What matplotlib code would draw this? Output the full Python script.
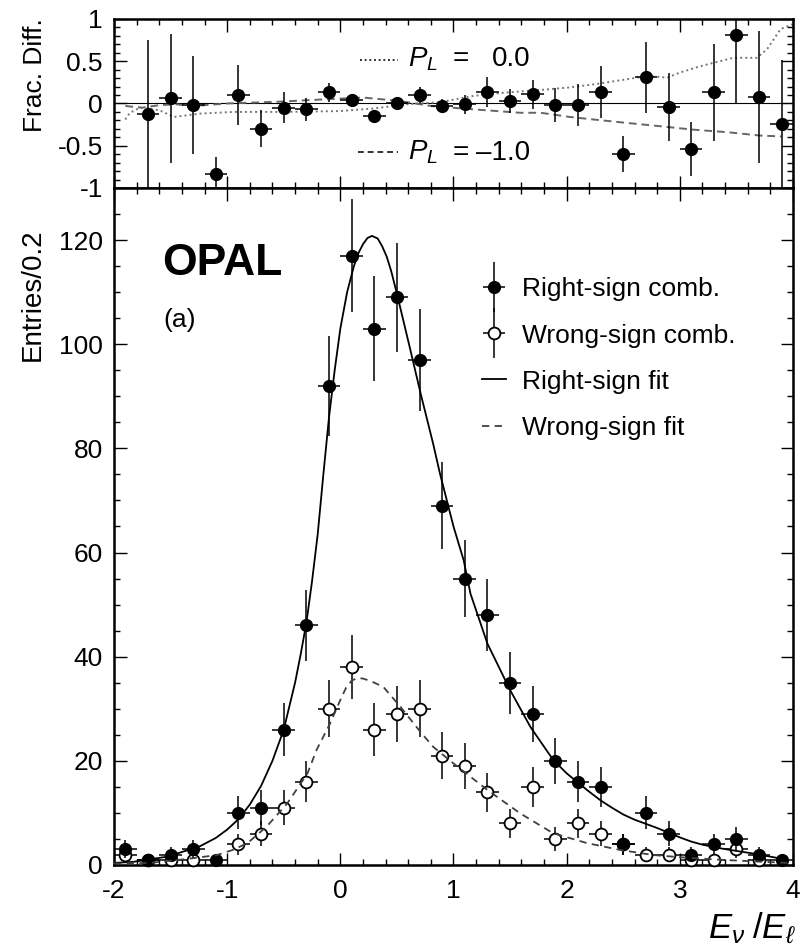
import numpy as np
import matplotlib
matplotlib.use('Agg')
import matplotlib.pyplot as plt
from matplotlib.legend_handler import HandlerErrorbar
from matplotlib.ticker import MultipleLocator, FuncFormatter
from matplotlib.container import ErrorbarContainer

plt.rcParams['font.family'] = ['Liberation Sans', 'DejaVu Sans']
plt.rcParams['mathtext.fontset'] = 'custom'
plt.rcParams['mathtext.it'] = 'Liberation Sans:italic'
plt.rcParams['mathtext.rm'] = 'Liberation Sans'
plt.rcParams['axes.unicode_minus'] = False

# ---------------- data ----------------
bin_centers = [-1.9, -1.7, -1.5, -1.3, -1.1, -0.9, -0.7, -0.5, -0.3, -0.1,
               0.1, 0.3, 0.5, 0.7, 0.9, 1.1, 1.3, 1.5, 1.7, 1.9,
               2.1, 2.3, 2.5, 2.7, 2.9, 3.1, 3.3, 3.5, 3.7, 3.9]
right_sign = [3, 1, 2, 3, 1, 10, 11, 26, 46, 92,
              117, 103, 109, 97, 69, 55, 48, 35, 29, 20,
              16, 15, 4, 10, 6, 2, 4, 5, 2, 1]
wrong_sign = [2, 1, 1, 1, 0, 4, 6, 11, 16, 30,
              38, 26, 29, 30, 21, 19, 14, 8, 15, 5,
              8, 6, 4, 2, 2, 1, 1, 3, 1, 0]
bin_half_width = 0.1

right_fit_x = [-2.0, -1.83, -1.53, -1.24, -1.1, -1.0, -0.9, -0.8, -0.7, -0.6,
               -0.5, -0.4, -0.35, -0.3, -0.25, -0.2, -0.15, -0.1, -0.05, 0.0,
               0.06, 0.12, 0.16, 0.2, 0.24, 0.28, 0.33, 0.37, 0.41, 0.45,
               0.5, 0.62, 0.71, 0.82, 0.88, 1.0, 1.09, 1.15, 1.30, 1.50,
               1.68, 1.88, 2.0, 2.18, 2.3, 2.4, 2.5, 2.6, 2.7, 2.8,
               2.9, 3.0, 3.1, 3.2, 3.36, 3.5, 3.65, 3.8, 3.95]
right_fit_y = [0.4, 0.6, 1.6, 3.6, 5.2, 6.8, 8.8, 11.6, 15.2, 20.0,
               26.0, 35.0, 40.5, 46.5, 54.5, 63.5, 75.0, 86.0, 95.0, 103.0,
               110.0, 115.0, 117.5, 119.2, 120.4, 120.8, 120.3, 118.8, 116.8, 114.0,
               109.7, 98.8, 90.5, 80.9, 75.2, 65.0, 58.5, 52.1, 42.5, 33.6,
               26.5, 20.2, 17.6, 14.4, 12.4, 11.0, 9.7, 8.7, 7.9, 7.1,
               6.2, 5.3, 4.5, 3.9, 3.2, 2.7, 2.2, 1.6, 1.0]

wrong_fit_x = [-2.0, -1.68, -1.38, -1.09, -0.95, -0.82, -0.65, -0.47, -0.29, -0.21,
               -0.09, 0.0, 0.05, 0.1, 0.15, 0.2, 0.27, 0.38, 0.53, 0.71,
               0.82, 1.0, 1.3, 1.59, 1.88, 2.18, 2.47, 2.77, 3.06, 3.36,
               3.65, 3.95]
wrong_fit_y = [0.3, 0.4, 1.1, 1.9, 2.9, 4.2, 7.4, 11.8, 17.6, 22.1,
               27.2, 31.7, 34.0, 35.4, 35.9, 35.8, 35.3, 34.2, 30.4, 25.5,
               22.7, 19.5, 14.4, 9.9, 6.1, 4.2, 2.9, 1.9, 1.4, 1.0,
               0.7, 0.4]

frac_x = [-1.7, -1.5, -1.3, -1.1, -0.9, -0.7, -0.5, -0.3, -0.1,
          0.1, 0.3, 0.5, 0.7, 0.9, 1.1, 1.3, 1.5, 1.7, 1.9,
          2.1, 2.3, 2.5, 2.7, 2.9, 3.1, 3.3, 3.5, 3.7, 3.9]
frac_diff = [-0.13, 0.06, -0.02, -0.83, 0.10, -0.30, -0.05, -0.07, 0.13,
             0.04, -0.15, 0.01, 0.10, -0.03, -0.01, 0.135, 0.03, 0.11, -0.02,
             -0.02, 0.135, -0.60, 0.31, -0.04, -0.54, 0.13, 0.81, 0.08, -0.24]
frac_err = [0.88, 0.76, 0.58, 0.20, 0.35, 0.22, 0.18, 0.14, 0.115,
            0.07, 0.07, 0.07, 0.10, 0.08, 0.11, 0.18, 0.14, 0.17, 0.20,
            0.25, 0.31, 0.21, 0.42, 0.40, 0.32, 0.57, 0.81, 0.78, 0.75]

pl0_x = [-1.9, -1.86, -1.77, -1.6, -1.47, -1.24, -0.94, -0.5, 0.0, 0.29,
         0.59, 0.88, 1.18, 1.47, 1.77, 2.03, 2.24, 2.53, 2.71, 2.89,
         3.0, 3.18, 3.47, 3.68, 3.77, 3.89, 4.0]
pl0_y = [-0.19, -0.11, -0.05, -0.08, -0.16, -0.12, -0.10, -0.10, -0.09, -0.06,
         -0.01, 0.015, 0.09, 0.13, 0.16, 0.19, 0.226, 0.286, 0.325, 0.306,
         0.365, 0.44, 0.54, 0.54, 0.64, 0.88, 0.94]
plm1_x = [-1.9, -1.75, -1.6, -1.45, -1.3, -1.0, -0.56, -0.12, 0.2, 0.44,
          0.59, 0.8, 1.18, 1.59, 1.77, 2.03, 2.24, 2.53, 2.83, 3.12,
          3.42, 3.71, 3.9]
plm1_y = [-0.03, -0.05, -0.02, -0.01, -0.03, 0.0, 0.02, 0.05, 0.07, 0.04,
          0.015, -0.03, -0.07, -0.11, -0.11, -0.16, -0.19, -0.23, -0.27, -0.31,
          -0.34, -0.38, -0.39]

# ---------------- figure ----------------
fig = plt.figure(figsize=(8.04, 9.47), dpi=100)
left, width = 0.1418, 0.8445
ax_top = fig.add_axes([left, 0.8015, width, 0.1785])
ax = fig.add_axes([left, 0.0866, width, 0.7149])

FS = 19
spine_lw = 1.8

def style(a):
    for s in a.spines.values():
        s.set_linewidth(spine_lw)
    a.tick_params(which='both', direction='in', top=True, right=True,
                  width=1.0, labelsize=FS)
    a.tick_params(which='major', length=9)
    a.tick_params(which='minor', length=4.5)
    a.xaxis.set_major_locator(MultipleLocator(1))
    a.xaxis.set_minor_locator(MultipleLocator(0.2))
    a.set_xlim(-2, 4)

fmt = FuncFormatter(lambda v, p: '0' if abs(v) < 1e-9 else f'{v:g}')

# ---- top panel ----
style(ax_top)
ax_top.set_ylim(-1, 1)
ax_top.yaxis.set_major_locator(MultipleLocator(0.5))
ax_top.yaxis.set_minor_locator(MultipleLocator(0.1))
ax_top.yaxis.set_major_formatter(fmt)
ax_top.tick_params(labelbottom=False, pad=8)
ax_top.axhline(0, color='black', lw=0.8, zorder=1)
ax_top.plot(pl0_x, pl0_y, color='#777777', lw=1.4, linestyle=(0, (1, 1.6)), zorder=2)
ax_top.plot(plm1_x, plm1_y, color='#666666', lw=1.4, linestyle=(0, (4, 2.5)), zorder=2)
ax_top.errorbar(frac_x, frac_diff, xerr=bin_half_width, yerr=frac_err, fmt='o',
                color='black', ms=8.5, elinewidth=1.1, capsize=0, zorder=3)
ax_top.set_ylabel('Frac. Diff.', fontsize=FS)
ax_top.yaxis.set_label_coords(-0.099, 0.67)

# legend-like annotations
ax_top.plot([0.177, 0.512], [0.52, 0.52], color='#333333', lw=1.4, linestyle=(0, (1, 1.4)))
ax_top.plot([0.16, 0.512], [-0.58, -0.58], color='#333333', lw=1.4, linestyle=(0, (3, 2)))
for yb, val in [(0.44, '0.0'), (-0.667, '\u20131.0')]:
    ax_top.text(0.60, yb, r'$P_L$', fontsize=20, va='baseline', ha='left')
    ax_top.text(0.99, yb, '=', fontsize=20, va='baseline', ha='left')
    ax_top.text(1.68, yb, val, fontsize=20, va='baseline', ha='right')

# ---- bottom panel ----
style(ax)
ax.set_ylim(0, 130)
ax.yaxis.set_major_locator(MultipleLocator(20))
ax.yaxis.set_minor_locator(MultipleLocator(5))
ax.xaxis.set_major_formatter(fmt)
ax.tick_params(axis='x', pad=10)
ax.tick_params(axis='y', pad=8)

bc = np.array(bin_centers)
ws = np.array(wrong_sign, dtype=float)
rs = np.array(right_sign, dtype=float)
mw = ws > 0
mr = rs > 0

h_wrong = ax.errorbar(bc[mw], ws[mw], xerr=bin_half_width,
                      yerr=np.sqrt(ws[mw]), fmt='o', color='black', mfc='white',
                      mec='black', mew=1.3, ms=8.5, elinewidth=1.1, capsize=0,
                      zorder=3, clip_on=False)
h_right = ax.errorbar(bc[mr], rs[mr], xerr=bin_half_width,
                      yerr=np.sqrt(rs[mr]), fmt='o', color='black', ms=8.5,
                      elinewidth=1.1, capsize=0, zorder=4, clip_on=False)
l_right, = ax.plot(right_fit_x, right_fit_y, color='black', lw=1.3, zorder=5)
l_wrong, = ax.plot(wrong_fit_x, wrong_fit_y, color='#404040', lw=1.3,
                   linestyle=(0, (4, 3)), zorder=5)

ax.set_ylabel('Entries/0.2', fontsize=20)
ax.yaxis.set_label_coords(-0.100, 0.842)
ax.text(1.004, -0.068, r'$E_\nu\;/E_\ell$', transform=ax.transAxes,
        ha='right', va='top', fontsize=25)

ax.text(0.071, 0.889, 'OPAL', transform=ax.transAxes, fontsize=32,
        fontweight='bold', ha='left', va='center')
ax.text(0.072, 0.805, '(a)', transform=ax.transAxes, fontsize=19,
        ha='left', va='center')

ax.legend([h_right, h_wrong, l_right, l_wrong],
          ['Right-sign comb.', 'Wrong-sign comb.', 'Right-sign fit', 'Wrong-sign fit'],
          loc='upper left', bbox_to_anchor=(0.507, 0.903), frameon=False,
          fontsize=FS, handlelength=0.9, handletextpad=0.6, labelspacing=0.84,
          numpoints=1, borderpad=0.4,
          handler_map={ErrorbarContainer: HandlerErrorbar(xerr_size=0.42, yerr_size=0.95)})

fig.savefig('out.png', dpi=100)
